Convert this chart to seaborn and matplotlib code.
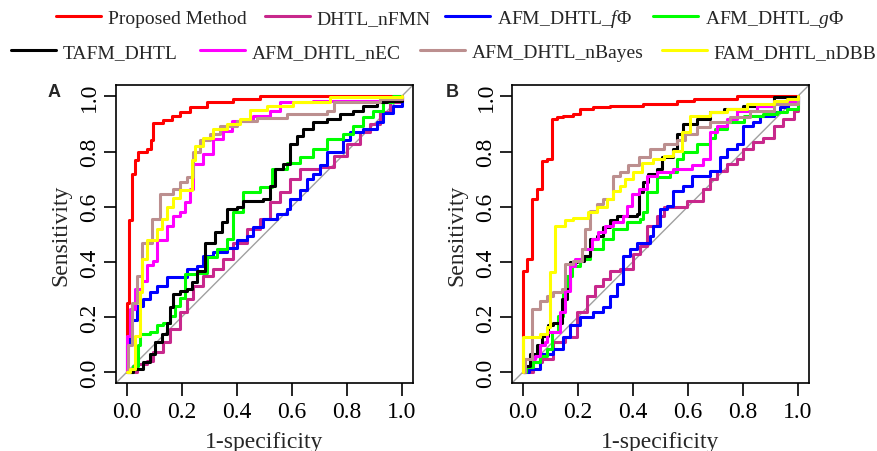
import matplotlib
matplotlib.use('Agg')
import matplotlib.pyplot as plt
import seaborn as sns
from matplotlib.lines import Line2D

# legend names and colours, in drawing order
methods = ['Proposed Method', 'DHTL_nFMN', r'AFM_DHTL_$\mathit{f\Phi}$', r'AFM_DHTL_$\mathit{g\Phi}$',
           'TAFM_DHTL', 'AFM_DHTL_nEC', 'AFM_DHTL_nBayes', 'FAM_DHTL_nDBB']
colors = ['#FF0000', '#C8288C', '#0000FF', '#00FF00', '#000000', '#FF00FF', '#BC8F8F', '#FFFF00']

# ---- panel A: ROC points (1-specificity, sensitivity) ----
a_proposed_x = [0, 0, 0.010, 0.018, 0.030, 0.042, 0.073, 0.087, 0.097, 0.133, 0.164, 0.194, 0.230, 0.291, 0.388, 0.485, 1]
a_proposed_y = [0, 0.25, 0.55, 0.72, 0.77, 0.80, 0.81, 0.84, 0.905, 0.915, 0.93, 0.945, 0.96, 0.98, 0.99, 1.0, 1]

a_nfmn_x = [0, 0.036, 0.073, 0.097, 0.133, 0.158, 0.194, 0.218, 0.242, 0.279, 0.315, 0.352, 0.388, 0.436, 0.485,
            0.521, 0.558, 0.594, 0.630, 0.703, 0.752, 0.800, 0.848, 0.885, 0.921, 0.958, 1]
a_nfmn_y = [0, 0.03, 0.042, 0.072, 0.109, 0.157, 0.217, 0.266, 0.314, 0.35, 0.374, 0.41, 0.47, 0.52, 0.556,
            0.616, 0.652, 0.70, 0.737, 0.743, 0.785, 0.827, 0.87, 0.90, 0.942, 0.978, 1]

a_f_x = [0, 0, 0.012, 0.036, 0.061, 0.085, 0.109, 0.145, 0.218, 0.255, 0.279, 0.315, 0.364, 0.400, 0.436, 0.461,
         0.497, 0.545, 0.582, 0.594, 0.630, 0.655, 0.679, 0.703, 0.727, 0.788, 0.812, 0.861, 0.909, 0.933, 0.97, 1]
a_f_y = [0, 0.1, 0.19, 0.24, 0.266, 0.29, 0.314, 0.344, 0.374, 0.386, 0.42, 0.435, 0.45, 0.48, 0.495, 0.525,
         0.555, 0.574, 0.59, 0.628, 0.66, 0.70, 0.72, 0.75, 0.80, 0.84, 0.87, 0.88, 0.906, 0.94, 0.966, 1]

a_g_x = [0, 0.024, 0.042, 0.048, 0.085, 0.109, 0.133, 0.158, 0.176, 0.194, 0.212, 0.255, 0.291, 0.327, 0.364,
         0.388, 0.424, 0.485, 0.527, 0.582, 0.630, 0.679, 0.727, 0.788, 0.824, 0.861, 0.897, 0.933, 0.97, 1]
a_g_y = [0, 0.024, 0.097, 0.14, 0.145, 0.17, 0.18, 0.205, 0.24, 0.27, 0.356, 0.36, 0.417, 0.447, 0.483,
         0.58, 0.652, 0.67, 0.737, 0.76, 0.78, 0.81, 0.845, 0.864, 0.894, 0.924, 0.948, 0.978, 1.0, 1]

a_tafm_x = [0, 0.024, 0.061, 0.085, 0.103, 0.127, 0.145, 0.158, 0.170, 0.194, 0.218, 0.236, 0.255, 0.285, 0.321,
            0.345, 0.364, 0.400, 0.424, 0.497, 0.521, 0.539, 0.570, 0.594, 0.618, 0.642, 0.679, 0.727, 0.776,
            0.824, 0.861, 0.909, 0.945, 1]
a_tafm_y = [0, 0.012, 0.036, 0.066, 0.109, 0.139, 0.18, 0.235, 0.284, 0.296, 0.30, 0.326, 0.368, 0.47, 0.507,
            0.543, 0.59, 0.598, 0.62, 0.628, 0.676, 0.737, 0.755, 0.827, 0.857, 0.88, 0.906, 0.918, 0.936,
            0.948, 0.966, 0.978, 0.984, 1]

a_nec_x = [0, 0, 0.012, 0.030, 0.055, 0.073, 0.097, 0.109, 0.145, 0.170, 0.194, 0.212, 0.230, 0.242, 0.279,
           0.315, 0.352, 0.382, 0.461, 0.521, 0.558, 0.679, 0.921, 1]
a_nec_y = [0, 0.13, 0.23, 0.30, 0.33, 0.39, 0.405, 0.48, 0.53, 0.568, 0.58, 0.616, 0.664, 0.755, 0.79,
           0.845, 0.876, 0.91, 0.93, 0.948, 0.978, 0.984, 0.99, 1]

a_nbayes_x = [0, 0.006, 0.018, 0.036, 0.055, 0.091, 0.121, 0.170, 0.194, 0.218, 0.242, 0.267, 0.303, 0.339,
              0.400, 0.473, 0.582, 0.727, 0.752, 0.921, 1]
a_nbayes_y = [0, 0.1, 0.25, 0.35, 0.47, 0.555, 0.646, 0.664, 0.69, 0.707, 0.80, 0.84, 0.865, 0.894,
              0.91, 0.92, 0.935, 0.948, 0.98, 0.99, 1]

a_ndbb_x = [0, 0.012, 0.030, 0.048, 0.055, 0.073, 0.109, 0.127, 0.145, 0.170, 0.194, 0.236, 0.248, 0.279,
            0.315, 0.364, 0.412, 0.448, 0.509, 0.606, 0.739, 1]
a_ndbb_y = [0, 0.012, 0.13, 0.29, 0.41, 0.48, 0.52, 0.555, 0.60, 0.63, 0.66, 0.77, 0.82, 0.85,
            0.88, 0.90, 0.918, 0.95, 0.966, 0.978, 0.996, 1]

# ---- panel B ----
b_proposed_x = [0, 0, 0.015, 0.033, 0.051, 0.069, 0.087, 0.105, 0.124, 0.148, 0.184, 0.208, 0.257, 0.318,
                0.439, 0.56, 0.621, 0.778, 1]
b_proposed_y = [0, 0.368, 0.41, 0.628, 0.664, 0.767, 0.773, 0.918, 0.924, 0.93, 0.936, 0.954, 0.96, 0.966,
                0.972, 0.984, 0.99, 1.0, 1]

b_nfmn_x = [0, 0.039, 0.069, 0.111, 0.154, 0.196, 0.233, 0.263, 0.293, 0.318, 0.354, 0.402, 0.427, 0.451,
            0.487, 0.512, 0.596, 0.657, 0.681, 0.705, 0.742, 0.778, 0.802, 0.839, 0.875, 0.912, 0.948, 0.985, 1]
b_nfmn_y = [0, 0.036, 0.048, 0.109, 0.127, 0.217, 0.278, 0.314, 0.338, 0.368, 0.374, 0.43, 0.459, 0.53,
            0.568, 0.598, 0.622, 0.664, 0.70, 0.73, 0.755, 0.773, 0.81, 0.833, 0.85, 0.894, 0.918, 0.948, 1]

b_f_x = [0, 0.021, 0.063, 0.111, 0.148, 0.172, 0.208, 0.257, 0.293, 0.318, 0.342, 0.366, 0.39, 0.415, 0.463,
         0.475, 0.499, 0.524, 0.548, 0.584, 0.615, 0.681, 0.718, 0.742, 0.778, 0.802, 0.839, 0.863, 0.912,
         0.936, 0.966, 1]
b_f_y = [0, 0.012, 0.066, 0.085, 0.127, 0.17, 0.20, 0.217, 0.235, 0.278, 0.32, 0.423, 0.447, 0.47, 0.495,
         0.53, 0.59, 0.604, 0.658, 0.676, 0.713, 0.73, 0.78, 0.81, 0.827, 0.894, 0.906, 0.93, 0.942,
         0.96, 0.972, 1]

b_g_x = [0, 0.012, 0.039, 0.063, 0.087, 0.105, 0.13, 0.148, 0.16, 0.178, 0.208, 0.245, 0.293, 0.33, 0.378,
         0.427, 0.439, 0.451, 0.487, 0.536, 0.56, 0.584, 0.633, 0.681, 0.7, 0.742, 0.803, 0.875, 0.924, 0.96, 1]
b_g_y = [0, 0.018, 0.036, 0.06, 0.085, 0.145, 0.205, 0.296, 0.35, 0.386, 0.41, 0.447, 0.483, 0.52, 0.543,
         0.556, 0.58, 0.652, 0.707, 0.725, 0.773, 0.797, 0.827, 0.85, 0.88, 0.906, 0.93, 0.936, 0.942, 0.954, 1]

b_tafm_x = [0, 0.008, 0.027, 0.051, 0.069, 0.093, 0.111, 0.142, 0.16, 0.172, 0.196, 0.221, 0.245, 0.269,
            0.293, 0.318, 0.342, 0.415, 0.421, 0.439, 0.457, 0.487, 0.505, 0.548, 0.56, 0.584, 0.633, 0.681,
            0.73, 0.802, 0.912, 1]
b_tafm_y = [0, 0.024, 0.066, 0.097, 0.133, 0.17, 0.18, 0.266, 0.30, 0.40, 0.405, 0.42, 0.483, 0.495,
            0.525, 0.55, 0.568, 0.574, 0.652, 0.69, 0.72, 0.737, 0.78, 0.81, 0.864, 0.90, 0.918, 0.942,
            0.954, 0.966, 0.996, 1]

b_nec_x = [0, 0.008, 0.045, 0.063, 0.081, 0.087, 0.136, 0.154, 0.172, 0.19, 0.215, 0.251, 0.275, 0.299, 0.33,
           0.366, 0.378, 0.396, 0.421, 0.451, 0.487, 0.548, 0.615, 0.657, 0.681, 0.705, 0.742, 0.778, 0.851,
           0.912, 1]
b_nec_y = [0, 0.048, 0.06, 0.097, 0.109, 0.145, 0.217, 0.296, 0.386, 0.41, 0.447, 0.483, 0.507, 0.53, 0.543,
           0.568, 0.604, 0.646, 0.664, 0.713, 0.725, 0.737, 0.75, 0.773, 0.87, 0.894, 0.918, 0.948, 0.966,
           0.984, 1]

b_nbayes_x = [0, 0.008, 0.033, 0.063, 0.087, 0.111, 0.142, 0.154, 0.184, 0.215, 0.227, 0.245, 0.269, 0.293,
              0.33, 0.354, 0.384, 0.421, 0.463, 0.512, 0.56, 0.59, 0.633, 0.681, 0.754, 0.827, 0.912, 1]
b_nbayes_y = [0, 0.048, 0.23, 0.26, 0.278, 0.29, 0.30, 0.392, 0.405, 0.447, 0.52, 0.586, 0.61, 0.628,
              0.713, 0.725, 0.75, 0.78, 0.81, 0.827, 0.84, 0.864, 0.888, 0.906, 0.924, 0.948, 0.972, 1]

b_ndbb_x = [0, 0, 0.063, 0.087, 0.099, 0.118, 0.154, 0.184, 0.239, 0.269, 0.305, 0.33, 0.354, 0.372, 0.402,
            0.433, 0.475, 0.512, 0.548, 0.578, 0.608, 0.681, 0.742, 0.815, 0.912, 0.96, 1]
b_ndbb_y = [0, 0.127, 0.139, 0.163, 0.362, 0.53, 0.55, 0.56, 0.58, 0.60, 0.628, 0.658, 0.676, 0.70, 0.725,
            0.76, 0.773, 0.785, 0.803, 0.87, 0.93, 0.942, 0.954, 0.972, 0.984, 0.99, 1]

panel_a = [(a_proposed_x, a_proposed_y), (a_nfmn_x, a_nfmn_y), (a_f_x, a_f_y), (a_g_x, a_g_y),
           (a_tafm_x, a_tafm_y), (a_nec_x, a_nec_y), (a_nbayes_x, a_nbayes_y), (a_ndbb_x, a_ndbb_y)]
panel_b = [(b_proposed_x, b_proposed_y), (b_nfmn_x, b_nfmn_y), (b_f_x, b_f_y), (b_g_x, b_g_y),
           (b_tafm_x, b_tafm_y), (b_nec_x, b_nec_y), (b_nbayes_x, b_nbayes_y), (b_ndbb_x, b_ndbb_y)]

ticks = [0.0, 0.2, 0.4, 0.6, 0.8, 1.0]
tick_labels = ['0.0', '0.2', '0.4', '0.6', '0.8', '1.0']

sns.set_style('ticks')
plt.rcParams['font.family'] = ['Liberation Serif', 'DejaVu Serif']
plt.rcParams['mathtext.fontset'] = 'custom'
plt.rcParams['mathtext.rm'] = 'Liberation Serif'
plt.rcParams['mathtext.it'] = 'Liberation Serif:italic'

fig = plt.figure(figsize=(8.77, 4.52), dpi=100)
ax_a = fig.add_axes([0.1319, 0.1498, 0.3387, 0.6593])
ax_b = fig.add_axes([0.5835, 0.1498, 0.3387, 0.6593])

for ax, curves, tag, tag_x in [(ax_a, panel_a, 'A', 54 / 877), (ax_b, panel_b, 'B', 452 / 877)]:
    ax.axline((0, 0), (1, 1), color='#A0A0A0', lw=1.0, zorder=1)
    for (xs, ys), c in zip(curves, colors):
        sns.lineplot(x=xs, y=ys, color=c, lw=2.2, drawstyle='steps-post',
                     estimator=None, sort=False, ax=ax, zorder=2)
    ax.set_xlim(-0.04, 1.04)
    ax.set_ylim(-0.04, 1.04)
    ax.set_xticks(ticks)
    ax.set_xticklabels(tick_labels)
    ax.set_yticks(ticks)
    ax.set_yticklabels(tick_labels, rotation=90, va='center')
    ax.tick_params(axis='both', labelsize=17, length=9, width=1.2, color='black', labelcolor='black')
    ax.tick_params(axis='x', pad=4)
    ax.tick_params(axis='y', pad=2)
    for sp in ax.spines.values():
        sp.set_visible(True)
        sp.set_linewidth(1.2)
        sp.set_color('black')
    ax.set_xlabel('1-specificity', fontsize=17, labelpad=6)
    ax.set_ylabel('Sensitivity', fontsize=17, labelpad=6)
    fig.text(tag_x, 1 - 93 / 452, tag, fontsize=13, fontweight='bold',
             family='Liberation Sans', ha='center', va='center')

# legend entries placed like the original (two rows, uneven spacing)
entry_x = [56, 265, 445, 653, 11, 200, 420, 662]
entry_y = [19, 19, 19, 19, 53, 53, 53, 53]
for name, c, ex, ey in zip(methods, colors, entry_x, entry_y):
    h = Line2D([], [], color=c, lw=2.2)
    fig.legend(handles=[h], labels=[name], loc='center left',
               bbox_to_anchor=(ex / 877, 1 - ey / 452), frameon=False, fontsize=14,
               borderpad=0, borderaxespad=0, handlelength=2.3, handletextpad=0.35)

fig.savefig('out.png', dpi=100)
